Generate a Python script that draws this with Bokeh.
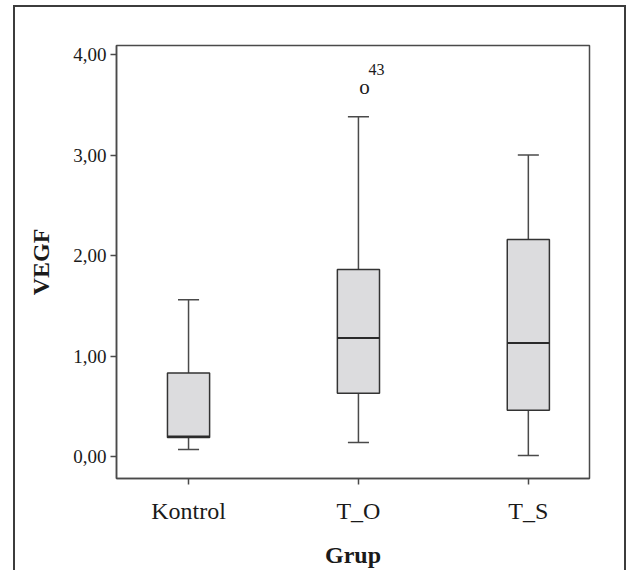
from bokeh.plotting import figure
from bokeh.models import Range1d, CustomJSTickFormatter, FixedTicker, ColumnDataSource
from bokeh.core.properties import value
from bokeh.transform import dodge
from bokeh.embed import file_html
from bokeh.resources import INLINE

# ---- data ----
groups = ["Kontrol", "T_O", "T_S"]
positions = [1, 2, 3]
lower_whisker = [0.07, 0.14, 0.01]
q1 = [0.19, 0.63, 0.46]
median = [0.20, 1.18, 1.13]
q3 = [0.83, 1.86, 2.16]
upper_whisker = [1.56, 3.38, 3.00]

outlier_pos = [2]
outlier_value = [3.65]
outlier_label = ["43"]

y_ticks = [0, 1, 2, 3, 4]

FONT = "Liberation Serif"
TXT = "#1a1a1a"
LINE = "#4a4a4a"

p = figure(width=613, height=565, output_backend="svg", toolbar_location=None,
           x_range=Range1d(0.576, 3.36), y_range=Range1d(-0.219, 4.09),
           min_border_left=101, min_border_right=39, min_border_top=38, min_border_bottom=94)
p.margin = (5, 0, 0, 13)
p.styles = {"border-top": "2px solid #3c3c3c", "border-left": "2px solid #3c3c3c",
            "border-right": "2px solid #3c3c3c"}

p.grid.visible = False
p.outline_line_color = LINE
p.outline_line_width = 1.5
p.background_fill_color = "white"
p.border_fill_color = "white"

src = ColumnDataSource(dict(x=positions, lw=lower_whisker, q1=q1, med=median, q3=q3, uw=upper_whisker))
cap = 0.062
bw = 0.124
# whiskers
p.segment(x0="x", y0="q3", x1="x", y1="uw", source=src, line_color=LINE, line_width=1.5)
p.segment(x0="x", y0="lw", x1="x", y1="q1", source=src, line_color=LINE, line_width=1.5)
# caps
p.segment(x0=dodge("x", -cap), y0="uw", x1=dodge("x", cap), y1="uw", source=src, line_color=LINE, line_width=1.5)
p.segment(x0=dodge("x", -cap), y0="lw", x1=dodge("x", cap), y1="lw", source=src, line_color=LINE, line_width=1.5)
# boxes
p.vbar(x="x", top="q3", bottom="q1", width=2 * bw, source=src, fill_color="#dcdcde",
       line_color="#333333", line_width=1.5)
# medians
p.segment(x0=dodge("x", -bw), y0="med", x1=dodge("x", bw), y1="med", source=src,
          line_color="#2a2a2a", line_width=2)

# outlier
osrc = ColumnDataSource(dict(x=outlier_pos, y=outlier_value, lab=outlier_label))
p.text(x="x", y="y", text=value("o"), source=osrc, text_font=value(FONT), text_font_size="21px",
       text_color=TXT, text_align="center", text_baseline="alphabetic", x_offset=6, y_offset=-3)
p.text(x="x", y="y", text="lab", source=osrc, text_font=value(FONT), text_font_size="16px",
       text_color=TXT, text_align="left", text_baseline="middle", x_offset=10, y_offset=-20)

# axes
xa = p.xaxis[0]
xa.ticker = FixedTicker(ticks=positions)
xa.major_label_overrides = {pos: g for pos, g in zip(positions, groups)}
xa.axis_label = "Grup"
ya = p.yaxis[0]
ya.ticker = FixedTicker(ticks=y_ticks)
ya.formatter = CustomJSTickFormatter(code="return tick.toFixed(2).replace('.', ',');")
ya.axis_label = "VEGF"

for ax in (xa, ya):
    ax.axis_line_color = LINE
    ax.axis_line_width = 1.5
    ax.major_tick_line_color = LINE
    ax.major_tick_line_width = 1.5
    ax.major_tick_in = 0
    ax.major_tick_out = 6
    ax.minor_tick_line_color = None
    ax.major_label_text_font = FONT
    ax.major_label_text_color = TXT
    ax.axis_label_text_font = FONT
    ax.axis_label_text_font_style = "bold"
    ax.axis_label_text_color = TXT

xa.major_label_text_font_size = "24px"
xa.major_label_standoff = 13
xa.axis_label_text_font_size = "24px"
xa.axis_label_standoff = 15
ya.major_label_text_font_size = "19px"
ya.major_label_standoff = 4
ya.axis_label_text_font_size = "24px"
ya.axis_label_standoff = 16

open("out.html", "w").write(file_html(p, INLINE))
